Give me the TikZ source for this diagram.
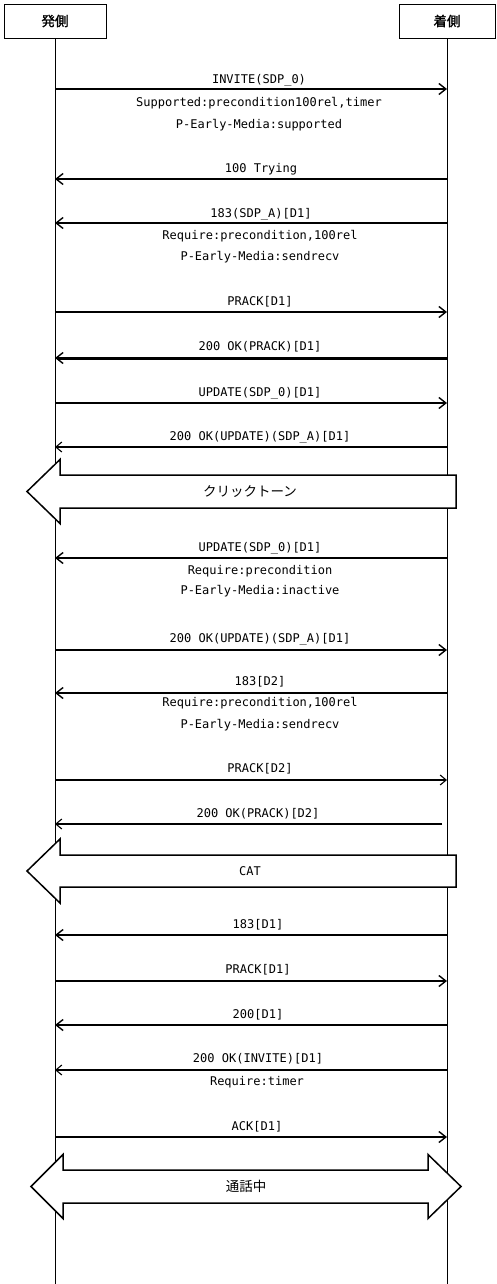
\documentclass[tikz,border=0pt]{standalone}
\usepackage{fontspec}
\setmainfont{DejaVu Sans Mono}
\newfontfamily\jpfont{Noto Sans CJK JP}
\newfontfamily\jpbold[FakeBold=1.5]{Noto Sans CJK JP}
\usetikzlibrary{arrows.meta}
\begin{document}
\begin{tikzpicture}[x=1pt,y=-1pt,
  actor/.style={draw,line width=0.9pt,minimum height=34pt,inner sep=0pt,font=\jpbold\fontsize{13.5}{13.5}\selectfont},
  life/.style={line width=0.9pt},
  lbl/.style={inner sep=0pt,font=\fontsize{12}{12}\selectfont},
  msg/.style={line width=1.6pt,-{Straight Barb[length=7pt,width=11pt,line width=1.4pt]}},
  thin msg/.style={line width=1.3pt,-{Straight Barb[length=6pt,width=10pt,line width=1.1pt]}},
  heavy msg/.style={line width=3pt,-{Straight Barb[length=7pt,width=11pt,line width=1.4pt]}},
  bigarrow/.style={draw,fill=white,line width=1.5pt,line join=miter},
  biglbl/.style={inner sep=0pt,font=\jpfont\fontsize{13.5}{13.5}\selectfont}
]
\useasboundingbox (0,0) rectangle (496,1284);
\fill[white] (0,0) rectangle (496,1284);

% actors
\node[actor,minimum width=102pt] (A) at (55,21) {発側};
\node[actor,minimum width=96pt] (B) at (447,21) {着側};
\coordinate (Aend) at (55,1284);
\coordinate (Bend) at (447,1284);
\draw[life] (A.south) -- (Aend);
\draw[life] (B.south) -- (Bend);

% big arrows
\draw[bigarrow] (456,475) -- (60,475) -- (60,459.5) -- (27,491.5) -- (60,523.5) -- (60,508) -- (456,508) -- cycle;
\node[biglbl] (click) at (250,491.5) {クリックトーン};
\draw[bigarrow] (456,855) -- (60,855) -- (60,839) -- (27,871) -- (60,903) -- (60,887) -- (456,887) -- cycle;
\node[biglbl] (cat) at (250,871) {\fontspec{DejaVu Sans Mono}\fontsize{12}{12}\selectfont CAT};
\draw[bigarrow] (428,1170) -- (63,1170) -- (63,1154.5) -- (31,1186.5) -- (63,1218.5) -- (63,1203) -- (428,1203) -- (428,1218.5) -- (461,1186.5) -- (428,1154.5) -- cycle;
\node[biglbl] (talk) at (246,1186.5) {通話中};

% messages
\draw[msg] (A |- 0,89) -- (B |- 0,89);
\node[lbl] (l1) at (259,80) {INVITE(SDP\_0)};
\node[lbl] (l1b) at (259,103) {Supported:precondition100rel,timer};
\node[lbl] (l1c) at (259,125) {P-Early-Media:supported};

\draw[msg] (B |- 0,179) -- (A |- 0,179);
\node[lbl] (l2) at (261,169) {100 Trying};

\draw[msg] (B |- 0,223) -- (A |- 0,223);
\node[lbl] (l3) at (261,214) {183(SDP\_A)[D1]};
\node[lbl] (l3b) at (260,236) {Require:precondition,100rel};
\node[lbl] (l3c) at (260,257) {P-Early-Media:sendrecv};

\draw[msg] (A |- 0,312) -- (B |- 0,312);
\node[lbl] (l4) at (260,302) {PRACK[D1]};

\draw[heavy msg] (B |- 0,358) -- (A |- 0,358);
\node[lbl] (l5) at (260,347) {200 OK(PRACK)[D1]};

\draw[msg] (A |- 0,403) -- (B |- 0,403);
\node[lbl] (l6) at (260,393) {UPDATE(SDP\_0)[D1]};

\draw[thin msg] (B |- 0,447) -- (A |- 0,447);
\node[lbl] (l7) at (260,437) {200 OK(UPDATE)(SDP\_A)[D1]};

\draw[msg] (B |- 0,558) -- (A |- 0,558);
\node[lbl] (l8) at (260,548) {UPDATE(SDP\_0)[D1]};
\node[lbl] (l8b) at (260,571) {Require:precondition};
\node[lbl] (l8c) at (260,591) {P-Early-Media:inactive};

\draw[msg] (A |- 0,650) -- (B |- 0,650);
\node[lbl] (l9) at (260,639) {200 OK(UPDATE)(SDP\_A)[D1]};

\draw[msg] (B |- 0,693) -- (A |- 0,693);
\node[lbl] (l10) at (260,682) {183[D2]};
\node[lbl] (l10b) at (260,703) {Require:precondition,100rel};
\node[lbl] (l10c) at (260,725) {P-Early-Media:sendrecv};

\draw[thin msg] (A |- 0,780) -- (B |- 0,780);
\node[lbl] (l11) at (260,769) {PRACK[D2]};

\coordinate (s12) at (442,824);
\draw[thin msg] (s12) -- (A |- s12);
\node[lbl] (l12) at (258,814) {200 OK(PRACK)[D2]};

\draw[msg] (B |- 0,935) -- (A |- 0,935);
\node[lbl] (l13) at (258,925) {183[D1]};

\draw[msg] (A |- 0,981) -- (B |- 0,981);
\node[lbl] (l14) at (258,970) {PRACK[D1]};

\draw[msg] (B |- 0,1025) -- (A |- 0,1025);
\node[lbl] (l15) at (258,1015) {200[D1]};

\draw[thin msg] (B |- 0,1070) -- (A |- 0,1070);
\node[lbl] (l16) at (258,1059) {200 OK(INVITE)[D1]};
\node[lbl] (l16b) at (257,1082) {Require:timer};

\draw[msg] (A |- 0,1137) -- (B |- 0,1137);
\node[lbl] (l17) at (257,1127) {ACK[D1]};
\end{tikzpicture}
\end{document}
